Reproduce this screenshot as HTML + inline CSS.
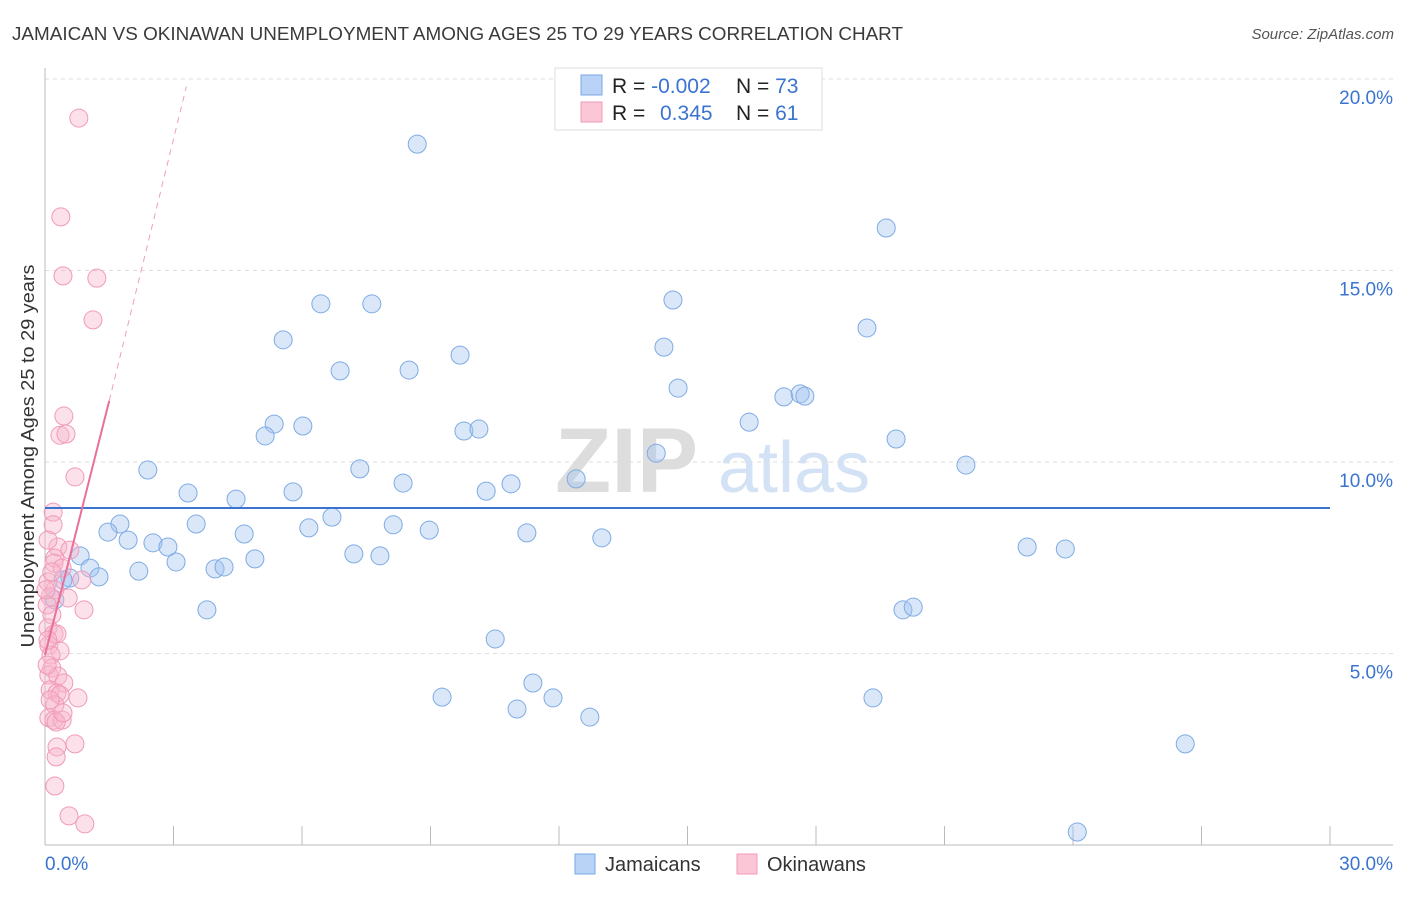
<!DOCTYPE html>
<html><head><meta charset="utf-8"><style>
body{margin:0;background:#fff;}
svg text{font-family:"Liberation Sans",sans-serif;}
</style></head><body>
<svg id="chart" width="1406" height="892" xmlns="http://www.w3.org/2000/svg">
<text x="12" y="40" font-size="18.5" fill="#3a3a3a" textLength="891" lengthAdjust="spacingAndGlyphs">JAMAICAN VS OKINAWAN UNEMPLOYMENT AMONG AGES 25 TO 29 YEARS CORRELATION CHART</text>
<text x="1394" y="39" font-size="15" fill="#555" text-anchor="end" font-style="italic">Source: ZipAtlas.com</text>
<g>
<text x="555" y="492" font-size="92" fill="#ddd" font-family="Liberation Serif" font-weight="bold">ZIP</text>
<text x="718" y="492" font-size="72" fill="#d3e2f5">atlas</text>
</g>
<g id="grid"></g>
<g id="axes"></g>
<g id="pts"></g>
<g id="lines"></g>
<text transform="translate(34,456) rotate(-90)" font-size="18" fill="#333" text-anchor="middle" textLength="383" lengthAdjust="spacingAndGlyphs">Unemployment Among Ages 25 to 29 years</text>
<g>
<rect x="555" y="68" width="267" height="62" fill="#fff" stroke="#ddd"/>
<rect x="581" y="75" width="21" height="20" fill="#b8d3f5" stroke="#7aaae6"/>
<rect x="581" y="102" width="21" height="20" fill="#fbc6d6" stroke="#f09ab8"/>
<text x="612" y="93" font-size="21" fill="#222">R = <tspan fill="#3a74d0">-0.002</tspan></text>
<text x="736" y="93" font-size="21" fill="#222">N = <tspan fill="#3a74d0">73</tspan></text>
<text x="612" y="120" font-size="21" fill="#222">R = </text>
<text x="660" y="120" font-size="21" fill="#3a74d0">0.345</text>
<text x="736" y="120" font-size="21" fill="#222">N = <tspan fill="#3a74d0">61</tspan></text>
</g>
<g>
<rect x="575" y="854" width="20" height="20" fill="#b8d3f5" stroke="#7aaae6"/>
<text x="605" y="871" font-size="20" fill="#333">Jamaicans</text>
<rect x="737" y="854" width="20" height="20" fill="#fbc6d6" stroke="#f09ab8"/>
<text x="767" y="871" font-size="20" fill="#333">Okinawans</text>
</g>
</svg>
<script>
const xTicks=[0,3,6,9,12,15,18,21,24,27,30];
const yTicks=[5,10,15,20];
const yTickLabels=["5.0%","10.0%","15.0%","20.0%"];
const xEndLabels=["0.0%","30.0%"];
const blueX=[8.69,19.64,14.66,6.44,7.63,19.19,5.56,14.45,9.69,6.89,8.50,14.78,17.25,17.63,17.74,16.44,5.35,6.02,5.14,9.78,10.13,19.87,14.27,2.40,7.35,21.50,8.36,3.34,5.79,10.30,10.88,12.40,4.46,1.75,3.53,6.70,8.13,8.97,6.16,1.47,4.65,1.94,11.25,13.00,2.52,2.87,0.82,7.21,7.82,4.90,3.06,1.05,2.19,3.97,4.18,0.58,1.26,0.42,22.93,23.82,3.78,20.03,20.27,10.51,9.27,11.39,11.86,11.02,12.72,19.33,26.62,24.10,0.23];
const blueY=[18.30,16.11,14.23,14.13,14.13,13.50,13.19,13.00,12.79,12.38,12.40,11.93,11.70,11.78,11.72,11.04,10.99,10.94,10.68,10.81,10.86,10.60,10.23,9.79,9.82,9.92,9.45,9.19,9.22,9.24,9.43,9.56,9.03,8.38,8.38,8.56,8.36,8.22,8.28,8.17,8.12,7.96,8.15,8.02,7.89,7.78,7.55,7.60,7.55,7.47,7.39,7.23,7.15,7.21,7.26,6.97,7.00,6.92,7.78,7.73,6.14,6.14,6.21,5.38,3.86,4.23,3.84,3.55,3.34,3.84,2.64,0.34,6.40];
const pinkX=[0.79,0.37,0.42,1.21,1.12,0.44,0.35,0.49,0.70,0.19,0.19,0.30,0.58,0.23,0.21,0.40,0.86,0.07,0.23,0.12,0.54,0.05,0.91,0.16,0.07,0.21,0.28,0.09,0.35,0.14,0.16,0.09,0.30,0.44,0.12,0.28,0.35,0.77,0.23,0.09,0.21,0.40,0.26,0.70,0.28,0.26,0.23,0.56,0.93,0.07,0.05,0.12,0.02,0.16,0.42,0.07];
const pinkY=[18.98,16.40,14.86,14.80,13.71,11.20,10.70,10.73,9.61,8.69,8.36,7.78,7.70,7.49,7.36,7.23,6.92,6.87,6.66,6.48,6.45,6.27,6.14,6.01,5.67,5.51,5.51,5.22,5.07,4.96,4.62,4.44,4.41,4.23,4.05,3.97,3.92,3.84,3.66,3.32,3.26,3.26,3.21,2.64,2.56,2.30,1.54,0.76,0.55,5.35,4.70,3.79,6.66,7.13,3.45,7.96];
const blueTrend=[[0,8.8],[30,8.8]];
const pinkTrend=[[0,4.96],[1.5,11.6]];
const pinkDash=[[1.5,11.6],[3.3,19.8]];

const X0=45,X1=1330,Y0=845,PXY=38.3;
const sx=v=>X0+(X1-X0)*v/30;
const sy=v=>Y0-v*PXY;
const NS="http://www.w3.org/2000/svg";
function mk(tag,attrs,parent){const e=document.createElementNS(NS,tag);for(const k in attrs)e.setAttribute(k,attrs[k]);parent.appendChild(e);return e;}
const grid=document.getElementById('grid'),axes=document.getElementById('axes'),pts=document.getElementById('pts'),lines=document.getElementById('lines');
yTicks.forEach((t,i)=>{
 const l=mk('line',{x1:X0,x2:1393,y1:sy(t),y2:sy(t),stroke:'#ddd','stroke-dasharray':'4,4'},grid);
 
 
 const tx=mk('text',{x:1393,y:sy(t)+25,'font-size':19,fill:'#3a74d0','text-anchor':'end'},axes);
 tx.textContent=yTickLabels[i];
 
 
});
let a=mk('line',{x1:X0,x2:X0,y1:68,y2:Y0,stroke:'#bbb'},axes);


a=mk('line',{x1:X0,x2:1393,y1:Y0,y2:Y0,stroke:'#bbb'},axes);


xTicks.forEach(t=>{if(t===0)return;
 const l=mk('line',{x1:sx(t),x2:sx(t),y1:826,y2:Y0,stroke:'#bbb'},axes);
 
 
});
let t0=mk('text',{x:45,y:870,'font-size':19,fill:'#3a74d0'},axes);t0.textContent=xEndLabels[0];


t0=mk('text',{x:1393,y:870,'font-size':19,fill:'#3a74d0','text-anchor':'end'},axes);t0.textContent=xEndLabels[1];


blueX.forEach((v,i)=>{
 const c=mk('circle',{cx:sx(v),cy:sy(blueY[i]),r:9,fill:'rgba(160,196,240,0.4)',stroke:'#7fabe4','stroke-width':1},pts);
 
 
});
pinkX.forEach((v,i)=>{
 const c=mk('circle',{cx:sx(v),cy:sy(pinkY[i]),r:9,fill:'rgba(248,180,202,0.4)',stroke:'#f09ab8','stroke-width':1},pts);
 
 
});
let tl=mk('line',{x1:sx(blueTrend[0][0]),y1:sy(blueTrend[0][1]),x2:sx(blueTrend[1][0]),y2:sy(blueTrend[1][1]),stroke:'#3a74d0','stroke-width':2},lines);


tl=mk('line',{x1:sx(pinkTrend[0][0]),y1:sy(pinkTrend[0][1]),x2:sx(pinkTrend[1][0]),y2:sy(pinkTrend[1][1]),stroke:'#e8709a','stroke-width':2},lines);


tl=mk('line',{x1:sx(pinkDash[0][0]),y1:sy(pinkDash[0][1]),x2:sx(pinkDash[1][0]),y2:sy(pinkDash[1][1]),stroke:'#eea0b8','stroke-width':1,'stroke-dasharray':'6,5'},lines);


</script>
</body></html>
